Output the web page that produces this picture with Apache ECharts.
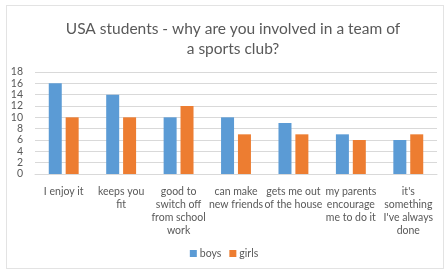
<!DOCTYPE html>
<html>
<head>
<meta charset="utf-8">
<script src="https://cdn.jsdelivr.net/npm/echarts@6/dist/echarts.min.js"></script>
<style>
  html, body { margin: 0; padding: 0; background: #fff; }
  #chart { width: 448px; height: 271px; }
  .frame { position: absolute; left: 6px; top: 5px; width: 436px; height: 262px; border: 1px solid #e3e3e3; pointer-events: none; }
</style>
</head>
<body>
<div id="chart"></div>
<div class="frame"></div>
<script>
const categories = [
  'I enjoy it',
  'keeps you\nfit',
  'good to\nswitch off\nfrom school\nwork',
  'can make\nnew friends',
  'gets me out\nof the house',
  'my parents\nencourage\nme to do it',
  "it's\nsomething\nI've always\ndone"
];
const boys = [16, 14, 10, 10, 9, 7, 6];
const girls = [10, 10, 12, 7, 7, 6, 7];

const chart = echarts.init(document.getElementById('chart'));
const font = 'Lato, Open Sans, sans-serif';

chart.setOption({
  animation: false,
  title: {
    text: 'USA students - why are you involved in a team of\na sports club?',
    left: 228,
    top: 14,
    textAlign: 'center',
    textStyle: { color: '#595959', fontSize: 15.5, fontWeight: 'normal', fontFamily: font, lineHeight: 20, align: 'center' }
  },
  legend: {
    bottom: 7,
    left: 'center',
    itemWidth: 7,
    itemHeight: 7,
    itemGap: 8,
    icon: 'rect',
    textStyle: { color: '#595959', fontSize: 10.5, fontFamily: font, padding: [0, 0, 0, -2] },
    data: ['boys', 'girls']
  },
  grid: { left: 35, right: 11, top: 72, bottom: 97 },
  xAxis: {
    type: 'category',
    data: categories,
    axisLine: { lineStyle: { color: '#d9d9d9' } },
    axisTick: { show: false },
    axisLabel: { color: '#595959', fontSize: 10.5, fontFamily: font, lineHeight: 13, interval: 0, margin: 11 }
  },
  yAxis: {
    type: 'value',
    min: 0,
    max: 18,
    interval: 2,
    axisLine: { show: false },
    axisTick: { show: false },
    axisLabel: { color: '#595959', fontSize: 10.5, fontFamily: font, margin: 12 },
    splitLine: { lineStyle: { color: '#d9d9d9' } }
  },
  series: [
    { name: 'boys', type: 'bar', data: boys, barWidth: 13, barGap: '30%', itemStyle: { color: '#5B9BD5' } },
    { name: 'girls', type: 'bar', data: girls, barWidth: 13, itemStyle: { color: '#ED7D31' } }
  ]
});
</script>
</body>
</html>
